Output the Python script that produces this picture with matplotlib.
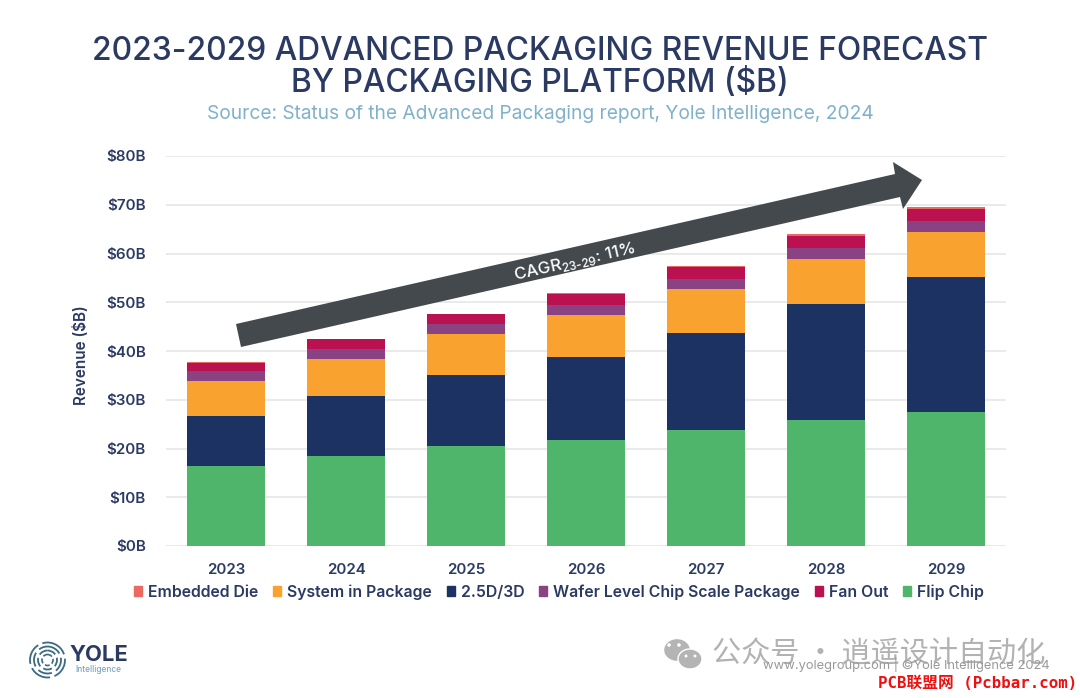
import matplotlib
matplotlib.use("Agg")
import matplotlib.pyplot as plt
from matplotlib.patches import Polygon, Ellipse, Circle, Patch
from matplotlib.transforms import Affine2D

years = ["2023", "2024", "2025", "2026", "2027", "2028", "2029"]
flip_chip = [16.4, 18.5, 20.5, 21.7, 23.8, 25.8, 27.4]
d25_3d = [10.3, 12.3, 14.6, 17.1, 19.9, 23.8, 27.7]
sip = [7.2, 7.6, 8.4, 8.6, 9.0, 9.3, 9.3]
wlcsp = [2.0, 2.0, 2.0, 2.0, 2.1, 2.2, 2.3]
fan_out = [1.7, 2.0, 2.0, 2.2, 2.4, 2.4, 2.4]
embedded = [0.1, 0.1, 0.1, 0.2, 0.3, 0.4, 0.4]

series = [
    ("Flip Chip", flip_chip, "#4fb56b"),
    ("2.5D/3D", d25_3d, "#1b3263"),
    ("System in Package", sip, "#f9a230"),
    ("Wafer Level Chip Scale Package", wlcsp, "#8a4283"),
    ("Fan Out", fan_out, "#bb1150"),
    ("Embedded Die", embedded, "#ea6a63"),
]
legend_order = ["Embedded Die", "System in Package", "2.5D/3D",
                "Wafer Level Chip Scale Package", "Fan Out", "Flip Chip"]

NAVY = "#2b3a63"
plt.rcParams["font.family"] = ["Inter", "DejaVu Sans"]
plt.rcParams["mathtext.fontset"] = "custom"
plt.rcParams["mathtext.rm"] = "Inter:medium"

W, H = 1080, 698
fig = plt.figure(figsize=(W / 100, H / 100), dpi=100, facecolor="white")
ax = fig.add_axes([166 / W, (H - 546) / H, 840 / W, 390 / H])
px = Affine2D().scale(1, -1).translate(0, H)  # top-left pixel coordinates

bottom = [0.0] * len(years)
for name, vals, col in series:
    ax.bar(years, vals, bottom=bottom, width=0.65, color=col, label=name, zorder=3)
    bottom = [b + v for b, v in zip(bottom, vals)]

ax.set_xlim(-0.5, 6.5)
ax.set_ylim(0, 80)
ax.set_yticks(range(0, 81, 10))
ax.set_yticklabels([f"${v}B" for v in range(0, 81, 10)], fontsize=10.9, fontweight="semibold", color=NAVY)
ax.tick_params(axis="both", length=0)
ax.tick_params(axis="y", pad=14.5)
ax.tick_params(axis="x", pad=12)
for lab in ax.get_xticklabels():
    lab.set_fontsize(10.9)
    lab.set_fontweight("semibold")
    lab.set_color(NAVY)
ax.grid(axis="y", color="#e6e6e8", lw=1.2, zorder=0)
ax.set_axisbelow(True)
for s in ax.spines.values():
    s.set_visible(False)
ax.set_ylabel("Revenue ($B)", fontsize=11, fontweight="semibold", color=NAVY)
ax.yaxis.set_label_coords((89 - 166) / 840, (546 - 355) / 390)

fig.text(540, 51, "2023-2029 ADVANCED PACKAGING REVENUE FORECAST", transform=px,
         ha="center", va="center", fontsize=22.9, fontweight="medium", color=NAVY)
fig.text(540, 84, "BY PACKAGING PLATFORM ($B)", transform=px,
         ha="center", va="center", fontsize=22.9, fontweight="medium", color=NAVY)
fig.text(540, 114, "Source: Status of the Advanced Packaging report, Yole Intelligence, 2024",
         transform=px, ha="center", va="center", fontsize=13.8, color="#7fb2ca")

# CAGR arrow
arrow = [(236, 324), (895, 174), (893, 162), (922, 180), (903, 209), (900, 197), (241, 347)]
fig.add_artist(Polygon(arrow, closed=True, transform=px, facecolor="#44494d", edgecolor="none", zorder=5))
fig.text(575, 262, r"CAGR$_{\mathrm{23\text{-}29}}$: 11%", transform=px, rotation=12.8,
         rotation_mode="anchor", ha="center", va="center", fontsize=12.2,
         fontweight="medium", color="white", zorder=6)

# legend
colors = {n: c for n, _, c in series}
fig.legend([Patch(color=colors[n]) for n in legend_order], legend_order, ncols=6, loc="center",
           bbox_to_anchor=(559 / W, (H - 592) / H), frameon=False, handlelength=0.5,
           handleheight=0.65, handletextpad=0.38, columnspacing=0.95,
           prop={"size": 11.4, "weight": "semibold"}, labelcolor=NAVY)

# logo
for r, lw, dash in [(17.5, 1.3, (0, (12, 2.5))), (13.5, 1.3, (0, (8, 2.5))),
                    (9.5, 1.3, (0, (5, 2))), (5.5, 1.2, (0, (3, 1.5)))]:
    fig.add_artist(Circle((47.5, 660), r, transform=px, fill=False, edgecolor="#3b6a85", lw=lw, linestyle=dash))
fig.text(69.5, 655, "YOLE", transform=px, ha="left", va="center", fontsize=15.8, fontweight="bold", color=NAVY)
fig.text(75, 670, "Intelligence", transform=px, ha="left", va="center", fontsize=6, fontweight="medium", color="#7fa6c0")

# watermarks
for (cx, cy, w, h) in [(677, 650, 27, 23), (690, 659, 24, 20)]:
    fig.add_artist(Ellipse((cx, cy), w, h, transform=px, facecolor="#b4b4b4", edgecolor="white", lw=1))
for (cx, cy, r) in [(669, 645, 1.8), (679, 645, 1.8), (686, 656, 1.5), (695, 656, 1.5)]:
    fig.add_artist(Circle((cx, cy), r, transform=px, facecolor="white", edgecolor="none"))
fig.text(712, 655, "公众号 · 逍遥设计自动化", transform=px, ha="left", va="center", fontsize=21,
         color="#b2b2b2", family=["Noto Sans CJK SC", "DejaVu Sans"])
fig.text(1050, 664, "www.yolegroup.com | ©Yole Intelligence 2024", transform=px, ha="right", va="center",
         fontsize=9.3, color="#9a9a9a")
fig.text(1077, 683, "PCB联盟网 (Pcbbar.com)", transform=px, ha="right", va="center", fontsize=11.3,
         fontweight="bold", color="#f01010", family=["DejaVu Sans Mono", "Noto Sans CJK SC"])

fig.savefig("out.png", dpi=100)
